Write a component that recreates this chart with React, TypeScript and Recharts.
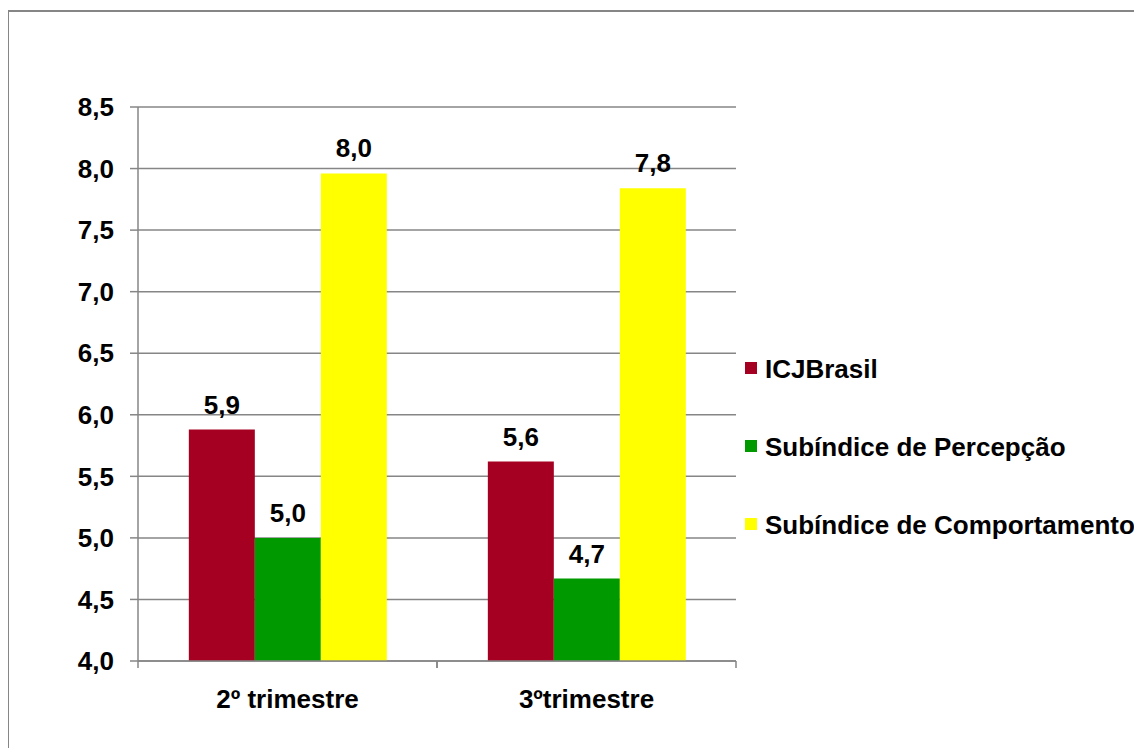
import React from 'react';
import { BarChart, Bar, XAxis, YAxis, CartesianGrid, Legend, LabelList } from 'recharts';

const categories = ['2º trimestre', '3ºtrimestre'];
const icjBrasil = [5.88, 5.62];
const percepcao = [5.0, 4.67];
const comportamento = [7.96, 7.84];
const yTicks = [4.0, 4.5, 5.0, 5.5, 6.0, 6.5, 7.0, 7.5, 8.0, 8.5];

const seriesNames = ['ICJBrasil', 'Subíndice de Percepção', 'Subíndice de Comportamento'];
const seriesColors = ['#A50021', '#009900', '#FFFF00'];

const data = categories.map((c, i) => ({
  name: c,
  icj: icjBrasil[i],
  perc: percepcao[i],
  comp: comportamento[i],
}));

const FONT = '"Liberation Sans", Arial, sans-serif';
const fmt = (v: number) => v.toFixed(1).replace('.', ',');

const XTick = (props: any) => {
  const { x, y, payload, width } = props;
  const bw = width / categories.length;
  const axisY = y;
  return (
    <g>
      <line x1={x - bw / 2} y1={axisY} x2={x - bw / 2} y2={axisY + 7} stroke="#868686" strokeWidth={1.5} />
      <line x1={x + bw / 2} y1={axisY} x2={x + bw / 2} y2={axisY + 7} stroke="#868686" strokeWidth={1.5} />
      <text x={x} y={axisY + 47} textAnchor="middle" fontFamily={FONT} fontWeight="bold" fontSize={26} fill="#000">
        {payload.value}
      </text>
    </g>
  );
};

const LegendContent = () => (
  <svg width={400} height={200} style={{ overflow: 'visible' }}>
    {seriesNames.map((n, i) => (
      <g key={n}>
        <rect x={0} y={4 + i * 78} width={12} height={12} fill={seriesColors[i]} />
        <text x={20} y={20 + i * 78} fontFamily={FONT} fontWeight="bold" fontSize={26} fill="#000">
          {n}
        </text>
      </g>
    ))}
  </svg>
);

export default function App() {
  return (
    <div style={{ position: 'relative', width: 1134, height: 740 }}>
      <div
        style={{
          position: 'absolute',
          left: -1,
          top: 2,
          width: 1130,
          height: 738,
          boxSizing: 'border-box',
          borderLeft: '2px solid #868686',
          borderTop: '2px solid #868686',
        }}
      />
      <div style={{ position: 'absolute', left: 0, top: 0 }}>
        <BarChart
          width={1134}
          height={740}
          data={data}
          margin={{ top: 99, right: 406, left: 0, bottom: 27 }}
          barCategoryGap="17%"
          barGap={0}
        >
          <CartesianGrid vertical={false} stroke="#868686" strokeWidth={1.5} />
          <XAxis
            dataKey="name"
            height={60}
            tickSize={0}
            tickMargin={0}
            tickLine={false}
            axisLine={{ stroke: '#868686', strokeWidth: 1.5 }}
            tick={<XTick />}
            interval={0}
          />
          <YAxis
            width={130}
            domain={[4, 8.5]}
            ticks={yTicks}
            interval={0}
            tickFormatter={fmt}
            tickSize={8}
            tickMargin={16}
            axisLine={{ stroke: '#868686', strokeWidth: 1.5 }}
            tickLine={{ stroke: '#868686', strokeWidth: 1.5 }}
            tick={{ fontFamily: FONT, fontWeight: 'bold', fontSize: 26, fill: '#000' }}
          />
          <Legend
            layout="vertical"
            align="center"
            verticalAlign="middle"
            content={<LegendContent />}
            wrapperStyle={{ left: 737, top: 350, width: 400, height: 200 }}
          />
          <Bar dataKey="icj" name={seriesNames[0]} fill={seriesColors[0]} isAnimationActive={false}>
            <LabelList dataKey="icj" position="top" offset={16} formatter={fmt} style={{ fontFamily: FONT, fontWeight: 'bold', fontSize: 26, fill: '#000' }} />
          </Bar>
          <Bar dataKey="perc" name={seriesNames[1]} fill={seriesColors[1]} isAnimationActive={false}>
            <LabelList dataKey="perc" position="top" offset={16} formatter={fmt} style={{ fontFamily: FONT, fontWeight: 'bold', fontSize: 26, fill: '#000' }} />
          </Bar>
          <Bar dataKey="comp" name={seriesNames[2]} fill={seriesColors[2]} isAnimationActive={false}>
            <LabelList dataKey="comp" position="top" offset={16} formatter={fmt} style={{ fontFamily: FONT, fontWeight: 'bold', fontSize: 26, fill: '#000' }} />
          </Bar>
        </BarChart>
      </div>
    </div>
  );
}
